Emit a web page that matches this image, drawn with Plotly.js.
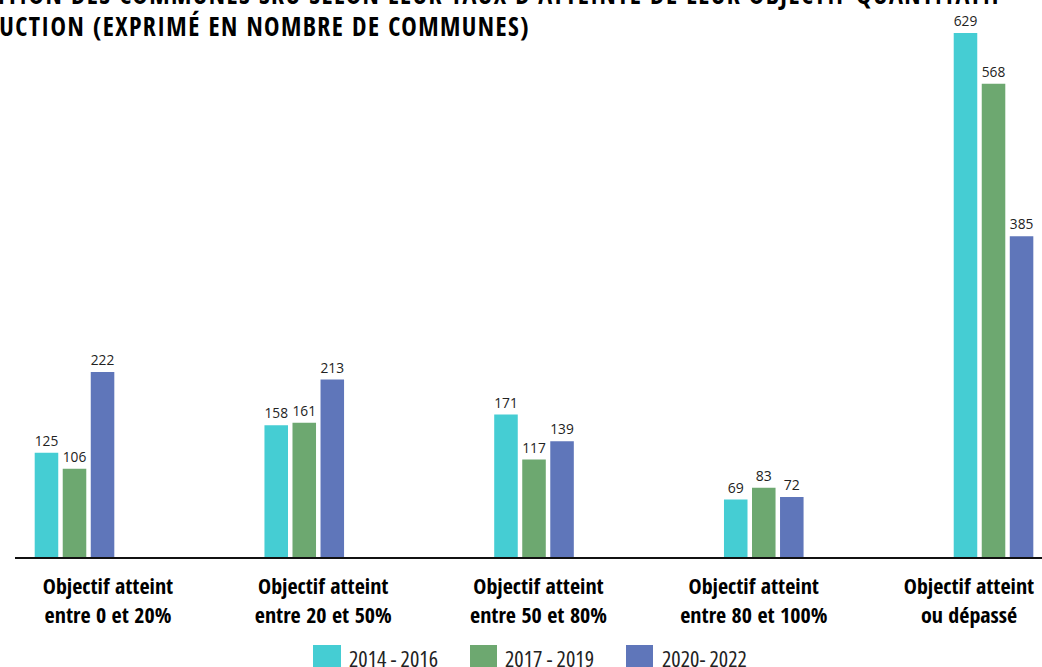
<!DOCTYPE html>
<html>
<head>
<meta charset="utf-8">
<script src="https://cdn.plot.ly/plotly-3.0.1.min.js"></script>
<style>
  html, body { margin: 0; padding: 0; background: #fff; }
  #chart { width: 1042px; height: 667px; }
</style>
</head>
<body>
<div id="chart"></div>
<script>
// ---- Data ----
const categoriesLine1 = ["Objectif atteint", "Objectif atteint", "Objectif atteint", "Objectif atteint", "Objectif atteint"];
const categoriesLine2 = ["entre 0 et 20%", "entre 20 et 50%", "entre 50 et 80%", "entre 80 et 100%", "ou dépassé"];
const seriesNames = ["2014 - 2016", "2017 - 2019", "2020- 2022"];
const values2014 = [125, 158, 171, 69, 629];
const values2017 = [106, 161, 117, 83, 568];
const values2020 = [222, 213, 139, 72, 385];
const titleLine1 = "RÉPARTITION DES COMMUNES SRU SELON LEUR TAUX D'ATTEINTE DE LEUR OBJECTIF QUANTITATIF";
const titleLine2 = "DE PRODUCTION (EXPRIMÉ EN NOMBRE DE COMMUNES)";

// ---- Style ----
const colors = ["#45CDD3", "#6DA870", "#5F76BA"];
const cond = "'Open Sans Condensed', 'Roboto Condensed', sans-serif";
const semi = "'Open Sans SemiCondensed', 'Open Sans', sans-serif";
const stretch = (t, pct) => '<span style="font-stretch:' + pct + '%">' + t + '</span>';
const spaced = (t, ls) => '<span style="letter-spacing:' + ls + 'px">' + t + '</span>';

const xIdx = categoriesLine1.map((_, i) => i);
const tickText = categoriesLine1.map((l, i) => l + "<br>" + categoriesLine2[i]);
const allSeries = [values2014, values2017, values2020];

const traces = allSeries.map((vals, k) => ({
  type: "bar",
  name: seriesNames[k],
  x: xIdx,
  y: vals,
  marker: { color: colors[k] },
  text: vals.map(String),
  textposition: "outside",
  cliponaxis: false,
  textfont: { family: semi, size: 14, color: "#222" },
  hoverinfo: "none"
}));

// empty helper trace so the label axis (xaxis2) is drawn; it draws no marks
traces.push({
  type: "scatter", mode: "none", x: [], y: [],
  xaxis: "x2", yaxis: "y", showlegend: false, hoverinfo: "skip"
});

// manual legend
const legendSwatches = [[313, 341, 347], [470, 497, 503], [626, 653, 660]];
const L = 15, W = 1027, base = 557, H = 547;
const px = v => (v - L) / W;
const py = v => (base - v) / H;

const shapes = legendSwatches.map((s, k) => ({
  type: "rect", xref: "paper", yref: "paper",
  x0: px(s[0]), x1: px(s[1]), y0: py(645), y1: py(672),
  fillcolor: colors[k], line: { width: 0 }
}));

const annotations = legendSwatches.map((s, k) => ({
  xref: "paper", yref: "paper", x: px(s[2]), y: py(657.5),
  xanchor: "left", yanchor: "middle", showarrow: false,
  text: stretch(seriesNames[k], 75),
  font: { family: "'Open Sans', sans-serif", size: 22, color: "#222", weight: 400 }
}));

annotations.push({
  xref: "paper", yref: "paper", x: px(1006), y: py(-5.5),
  xanchor: "right", yanchor: "middle", showarrow: false,
  text: spaced(titleLine1, 1.4),
  font: { family: cond, size: 26, color: "#000", weight: 700 }
});
annotations.push({
  xref: "paper", yref: "paper", x: px(532), y: py(25.5),
  xanchor: "right", yanchor: "middle", showarrow: false,
  text: spaced(titleLine2, 1.4),
  font: { family: cond, size: 26, color: "#000", weight: 700 }
});

const layout = {
  width: 1042, height: 667,
  margin: { l: L, r: 0, t: 10, b: 110 },
  paper_bgcolor: "#fff", plot_bgcolor: "#fff",
  barmode: "group",
  bargap: 0.634,
  bargroupgap: 0.16,
  showlegend: false,
  xaxis: {
    range: [-0.259, 4.211],
    showticklabels: false,
    showline: true, linecolor: "#111", linewidth: 2,
    showgrid: false, zeroline: false, ticks: "",
    fixedrange: true
  },
  // category labels sit on an evenly spaced overlay axis, as in the original
  xaxis2: {
    overlaying: "x",
    anchor: "y",
    side: "bottom",
    range: [-0.432, 4.339],
    tickvals: xIdx,
    ticktext: tickText,
    tickfont: { family: cond, size: 22, color: "#000", weight: 700 },
    ticklabeloverflow: "allow",
    ticklabelstandoff: 14,
    showline: false, showgrid: false, zeroline: false, ticks: "",
    fixedrange: true
  },
  yaxis: {
    range: [0, 656.6],
    visible: false,
    showgrid: false, zeroline: false,
    fixedrange: true
  },
  shapes: shapes,
  annotations: annotations
};

Plotly.newPlot("chart", traces, layout, { displayModeBar: false, staticPlot: true });
</script>
</body>
</html>
